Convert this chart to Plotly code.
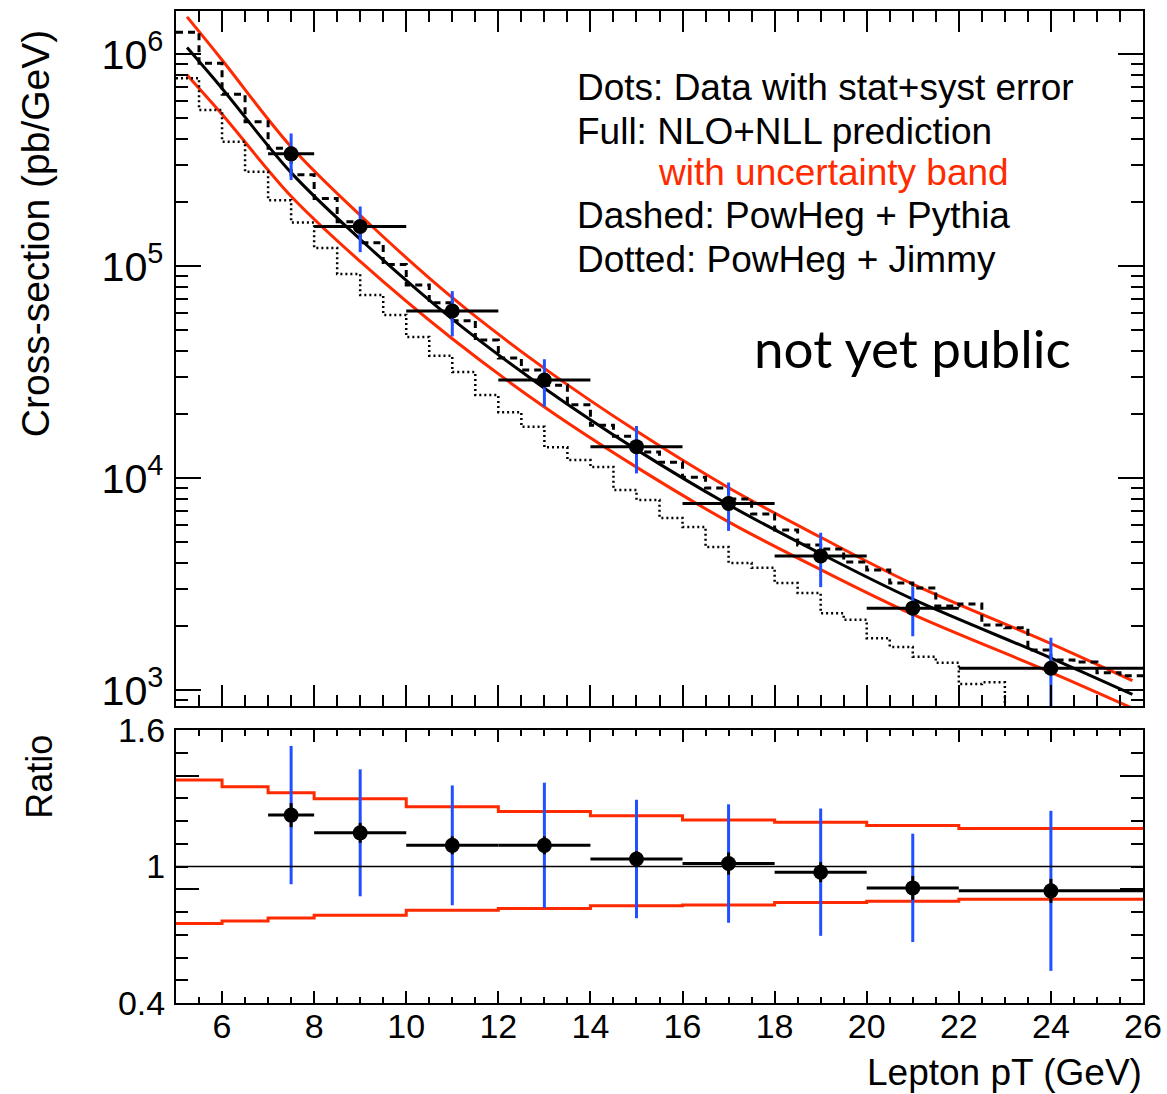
import numpy as np
import plotly.graph_objects as go

# ---------------- measured lepton pT spectrum ----------------
bin_lo = [7, 8, 10, 12, 14, 16, 18, 20, 22]
bin_hi = [8, 10, 12, 14, 16, 18, 20, 22, 26]
xsec_data = [3.39e5, 1.54e5, 6.15e4, 2.91e4, 1.41e4, 7.60e3, 4.30e3, 2.44e3, 1.27e3]   # pb/GeV
ratio_data = [1.226, 1.148, 1.093, 1.093, 1.033, 1.013, 0.975, 0.906, 0.893]           # data / NLO+NLL
tot_rel_err = [0.248, 0.243, 0.241, 0.252, 0.252, 0.257, 0.287, 0.263, 0.394]          # stat+syst
stat_rel_err = [0.043, 0.038, 0.036, 0.036, 0.034, 0.048, 0.045, 0.058, 0.059]

# ---------------- NLO+NLL prediction with uncertainty band ----------------
nlo_pt = [5.24, 6, 7.5, 9, 11, 13, 15, 17, 19, 21, 24, 25.77]
nlo_xsec = [1.075e6, 6.9e5, 2.765e5, 1.341e5, 5.63e4, 2.66e4, 1.365e4, 7.50e3, 4.41e3, 2.69e3, 1.42e3, 9.57e2]
nlo_up_xsec = [1.50e6, 9.4e5, 3.66e5, 1.74e5, 7.11e4, 3.30e4, 1.67e4, 9.03e3, 5.27e3, 3.17e3, 1.66e3, 1.11e3]
nlo_dn_xsec = [7.99e5, 5.21e5, 2.14e5, 1.054e5, 4.55e4, 2.17e4, 1.129e4, 6.23e3, 3.71e3, 2.28e3, 1.215e3, 8.23e2]

band_edges = [5, 6, 7, 8, 10, 12, 14, 16, 18, 20, 22, 26]
band_up_ratio = [1.380, 1.351, 1.324, 1.298, 1.263, 1.242, 1.223, 1.204, 1.195, 1.180, 1.167]
band_dn_ratio = [0.749, 0.760, 0.774, 0.786, 0.808, 0.815, 0.827, 0.831, 0.842, 0.847, 0.856]

# ---------------- PowHeg histograms, 0.5 GeV bins from 5 to 26 GeV ----------------
mc_edges = np.linspace(5.0, 26.0, 43)
powheg_pythia = [
    1.27e6, 9.07e5, 6.48e5, 4.81e5, 3.60e5, 2.70e5, 2.09e5, 1.62e5, 1.29e5, 1.02e5,
    8.16e4, 6.73e4, 5.54e4, 4.49e4, 3.69e4, 3.24e4, 2.75e4, 2.22e4, 1.78e4, 1.58e4,
    1.33e4, 1.19e4, 1.01e4, 9.00e3, 7.99e3, 6.79e3, 5.70e3, 4.85e3, 4.64e3, 4.03e3,
    3.69e3, 3.21e3, 3.04e3, 2.50e3, 2.55e3, 2.03e3, 1.97e3, 1.55e3, 1.39e3, 1.36e3,
    1.21e3, 1.17e3,
]
powheg_jimmy = [
    7.70e5, 5.46e5, 3.87e5, 2.79e5, 2.05e5, 1.61e5, 1.22e5, 9.20e4, 7.32e4, 5.89e4,
    4.64e4, 3.78e4, 3.17e4, 2.47e4, 2.05e4, 1.75e4, 1.40e4, 1.22e4, 1.13e4, 8.81e3,
    7.90e3, 6.50e3, 5.89e3, 4.74e3, 3.99e3, 3.78e3, 3.21e3, 2.88e3, 2.31e3, 2.15e3,
    1.76e3, 1.60e3, 1.44e3, 1.35e3, 1.07e3, 1.09e3, 7.6e2, 7.1e2, 6.6e2, 6.1e2,
    5.7e2, 5.3e2,
]

# ---------------- styling ----------------
RED = "#ff2a00"
BLUE = "#2050ff"
FONT = "Liberation Sans, Arial, Helvetica, sans-serif"


def steps(edges, values):
    """Histogram outline for line_shape='hv'."""
    return list(edges), list(values) + [values[-1]]


x_c = [(a + b) / 2 for a, b in zip(bin_lo, bin_hi)]
x_hw = [(b - a) / 2 for a, b in zip(bin_lo, bin_hi)]
tot_abs = [v * e for v, e in zip(xsec_data, tot_rel_err)]
stat_abs = [v * e for v, e in zip(xsec_data, stat_rel_err)]
ratio_tot = [r * e for r, e in zip(ratio_data, tot_rel_err)]
ratio_stat = [r * e for r, e in zip(ratio_data, stat_rel_err)]

fig = go.Figure()

# --- upper pad: cross-section ---
for ys in (nlo_up_xsec, nlo_dn_xsec):
    fig.add_trace(go.Scatter(x=nlo_pt, y=ys, mode="lines", line=dict(color=RED, width=3, shape="spline"),
                             xaxis="x", yaxis="y", hoverinfo="skip"))
fig.add_trace(go.Scatter(x=nlo_pt, y=nlo_xsec, mode="lines", line=dict(color="black", width=3, shape="spline"),
                         xaxis="x", yaxis="y", hoverinfo="skip"))

hx, hy = steps(mc_edges, powheg_pythia)
fig.add_trace(go.Scatter(x=hx, y=hy, mode="lines", line=dict(color="black", width=3, shape="hv", dash="7px,5px"),
                         xaxis="x", yaxis="y", hoverinfo="skip"))
hx, hy = steps(mc_edges, powheg_jimmy)
fig.add_trace(go.Scatter(x=hx, y=hy, mode="lines", line=dict(color="black", width=2.5, shape="hv", dash="2px,3px"),
                         xaxis="x", yaxis="y", hoverinfo="skip"))

fig.add_trace(go.Scatter(x=x_c, y=xsec_data, mode="markers", marker=dict(size=1, color="rgba(0,0,0,0)"),
                         error_y=dict(type="data", array=tot_abs, arrayminus=tot_abs, color=BLUE, thickness=3, width=0),
                         xaxis="x", yaxis="y", hoverinfo="skip"))
fig.add_trace(go.Scatter(x=x_c, y=xsec_data, mode="markers", marker=dict(size=15, color="black"),
                         error_x=dict(type="data", array=x_hw, color="black", thickness=3, width=0),
                         error_y=dict(type="data", array=stat_abs, arrayminus=stat_abs, color="black", thickness=3, width=0),
                         xaxis="x", yaxis="y", hoverinfo="skip"))

# --- lower pad: ratio ---
for vals in (band_up_ratio, band_dn_ratio):
    bx, by = steps(band_edges, vals)
    fig.add_trace(go.Scatter(x=bx, y=by, mode="lines", line=dict(color=RED, width=3, shape="hv"),
                             xaxis="x2", yaxis="y2", hoverinfo="skip"))
fig.add_trace(go.Scatter(x=x_c, y=ratio_data, mode="markers", marker=dict(size=1, color="rgba(0,0,0,0)"),
                         error_y=dict(type="data", array=ratio_tot, color=BLUE, thickness=3, width=0),
                         xaxis="x2", yaxis="y2", hoverinfo="skip"))
fig.add_trace(go.Scatter(x=x_c, y=ratio_data, mode="markers", marker=dict(size=15, color="black"),
                         error_x=dict(type="data", array=x_hw, color="black", thickness=3, width=0),
                         error_y=dict(type="data", array=ratio_stat, color="black", thickness=3, width=0),
                         xaxis="x2", yaxis="y2", hoverinfo="skip"))
# carrier for the long ratio ticks
fig.add_trace(go.Scatter(x=[5], y=[1], mode="markers", marker=dict(size=1, color="rgba(0,0,0,0)"),
                         xaxis="x2", yaxis="y3", hoverinfo="skip"))

fig.add_shape(type="line", xref="x2 domain", yref="y2", x0=0, x1=1, y0=1, y1=1,
              line=dict(color="black", width=1.5))

axis_common = dict(showline=True, linecolor="black", linewidth=2, mirror="ticks", ticks="inside",
                   tickcolor="black", showgrid=False, zeroline=False, automargin=False,
                   tickfont=dict(family=FONT, size=34, color="black"))

fig.update_layout(
    width=1167, height=1094,
    margin=dict(l=176, r=24, t=11, b=91, autoexpand=False),
    paper_bgcolor="white", plot_bgcolor="white",
    showlegend=False,
    xaxis=dict(axis_common, range=[5, 26], domain=[0, 1], anchor="y", dtick=2, ticklen=21, tickwidth=1.5,
               showticklabels=False,
               minor=dict(dtick=0.5, ticklen=11, ticks="inside", tickcolor="black", tickwidth=1.5)),
    yaxis=dict(axis_common, type="log", range=[2.926, 6.204], domain=[0.2994, 1.0], anchor="x",
               dtick=1, exponentformat="power", ticklen=25, tickwidth=1.5, ticklabelstandoff=4,
               tickfont=dict(family=FONT, size=33, color="black"),
               minor=dict(dtick="D1", ticklen=12, ticks="inside", tickcolor="black", tickwidth=1.5)),
    xaxis2=dict(axis_common, range=[5, 26], domain=[0, 1], anchor="y2", dtick=2, ticklen=12, tickwidth=1.5,
                ticklabelstandoff=-8,
                minor=dict(dtick=0.5, ticklen=6, ticks="inside", tickcolor="black", tickwidth=1.5)),
    yaxis2=dict(axis_common, range=[0.4, 1.6], domain=[0, 0.2752], anchor="x2",
                tickvals=[0.4, 1.0, 1.6], ticktext=["0.4", "1", "1.6"], ticklen=12, tickwidth=1.5,
                ticklabelstandoff=2,
                minor=dict(dtick=0.1, ticklen=12, ticks="inside", tickcolor="black", tickwidth=1.5)),
    yaxis3=dict(range=[0.4, 1.6], overlaying="y2", anchor="x2", side="left", showgrid=False, zeroline=False,
                showline=True, linecolor="black", linewidth=2, mirror="ticks", ticks="inside", automargin=False,
                tickvals=[0.9, 1.4], ticklen=23, tickwidth=1.5, tickcolor="black", showticklabels=False),
)

# axis titles
fig.add_annotation(text="Cross-section (pb/GeV)", xref="paper", yref="paper", x=-0.145, y=0.983,
                   xanchor="center", yanchor="top", textangle=-90, showarrow=False,
                   font=dict(family=FONT, size=39, color="black"))
fig.add_annotation(text="Ratio", xref="paper", yref="paper", x=-0.141, y=0.272,
                   xanchor="center", yanchor="top", textangle=-90, showarrow=False,
                   font=dict(family=FONT, size=36, color="black"))
fig.add_annotation(text="Lepton pT (GeV)", xref="paper", yref="paper", x=1.0, y=-0.0917,
                   xanchor="right", yanchor="bottom", showarrow=False, borderpad=0,
                   font=dict(family=FONT, size=37, color="black"))

# legend text block
legend_lines = [
    ("Dots: Data with stat+syst error", 0.4126, 0.9224, "black"),
    ("Full: NLO+NLL prediction", 0.4126, 0.8790, "black"),
    ("with uncertainty band", 0.4964, 0.8367, RED),
    ("Dashed: PowHeg + Pythia", 0.4126, 0.7934, "black"),
    ("Dotted: PowHeg + Jimmy", 0.4126, 0.7500, "black"),
]
for txt, xp, yp, col in legend_lines:
    fig.add_annotation(text=txt, xref="paper", yref="paper", x=xp, y=yp, xanchor="left", yanchor="middle",
                       showarrow=False, font=dict(family=FONT, size=37, color=col))

fig.add_annotation(text="not yet public", xref="paper", yref="paper", x=0.5957, y=0.6603,
                   xanchor="left", yanchor="middle", showarrow=False,
                   font=dict(family="Lato, Open Sans, sans-serif", size=53, color="black"))

fig.write_html("out.html")
